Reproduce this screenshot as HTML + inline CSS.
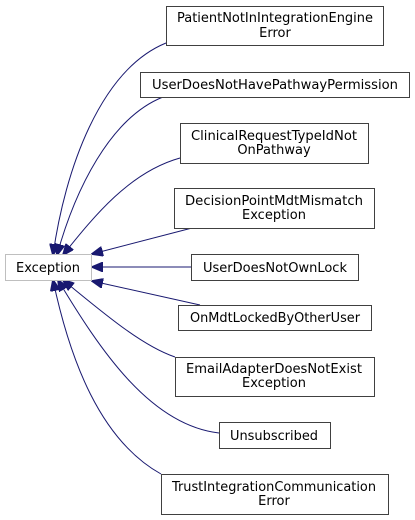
<!DOCTYPE html>
<html><head><meta charset="utf-8"><style>
html,body{margin:0;padding:0;background:#fff;}
svg{display:block;}
text{font-family:"DejaVu Sans","Liberation Sans",sans-serif;font-size:13px;fill:#000;}
</style></head><body>
<svg width="415" height="520" viewBox="0 0 415 520" xmlns="http://www.w3.org/2000/svg">
<defs>
<marker id="a" markerWidth="12" markerHeight="10" refX="11" refY="5" orient="auto" markerUnits="userSpaceOnUse">
<path d="M0,0 L12,5 L0,10 Z" fill="#191970" stroke="#191970"/>
</marker>
</defs>
<g fill="none" stroke="#191970" stroke-width="1" marker-end="url(#a)">
<path d="M166,43 C100,70 65,170 53,255"/>
<path d="M163,97 C110,118 75,190 57,255"/>
<path d="M180,158 C130,172 95,215 63,255"/>
<path d="M192,228 L92,254"/>
<path d="M191,267 L92,267"/>
<path d="M200,305 L92,281"/>
<path d="M175,357 C140,345 100,310 63,280"/>
<path d="M219,433 C150,425 100,350 58,280"/>
<path d="M161,474 C100,440 70,360 53,280"/>
</g>
<g fill="#fff" stroke="#404040" stroke-width="1">
<rect x="166.5" y="6.5" width="217" height="39"/>
<rect x="140.5" y="72.5" width="269" height="25"/>
<rect x="180.5" y="123.5" width="188" height="40"/>
<rect x="174.5" y="188.5" width="200" height="40"/>
<rect x="191.5" y="254.5" width="167" height="26"/>
<rect x="178.5" y="305.5" width="193" height="25"/>
<rect x="175.5" y="357.5" width="199" height="39"/>
<rect x="219.5" y="422.5" width="111" height="26"/>
<rect x="161.5" y="474.5" width="227" height="40"/>
</g>
<rect x="5.5" y="254.5" width="86" height="26" fill="#fff" stroke="#bfbfbf"/>
<g text-anchor="middle">
<text x="275" y="22" textLength="196" lengthAdjust="spacingAndGlyphs">PatientNotInIntegrationEngine</text>
<text x="275" y="37">Error</text>
<text x="275" y="89" textLength="246" lengthAdjust="spacingAndGlyphs">UserDoesNotHavePathwayPermission</text>
<text x="274" y="140" textLength="166" lengthAdjust="spacingAndGlyphs">ClinicalRequestTypeIdNot</text>
<text x="274" y="154">OnPathway</text>
<text x="274" y="205" textLength="178" lengthAdjust="spacingAndGlyphs">DecisionPointMdtMismatch</text>
<text x="274" y="219">Exception</text>
<text x="48" y="272" textLength="64" lengthAdjust="spacingAndGlyphs">Exception</text>
<text x="275" y="272" textLength="144" lengthAdjust="spacingAndGlyphs">UserDoesNotOwnLock</text>
<text x="275" y="322" textLength="170" lengthAdjust="spacingAndGlyphs">OnMdtLockedByOtherUser</text>
<text x="274" y="373" textLength="176" lengthAdjust="spacingAndGlyphs">EmailAdapterDoesNotExist</text>
<text x="274" y="387">Exception</text>
<text x="274" y="440" textLength="88" lengthAdjust="spacingAndGlyphs">Unsubscribed</text>
<text x="274" y="491" textLength="204" lengthAdjust="spacingAndGlyphs">TrustIntegrationCommunication</text>
<text x="274" y="505">Error</text>
</g>
</svg>
</body></html>
